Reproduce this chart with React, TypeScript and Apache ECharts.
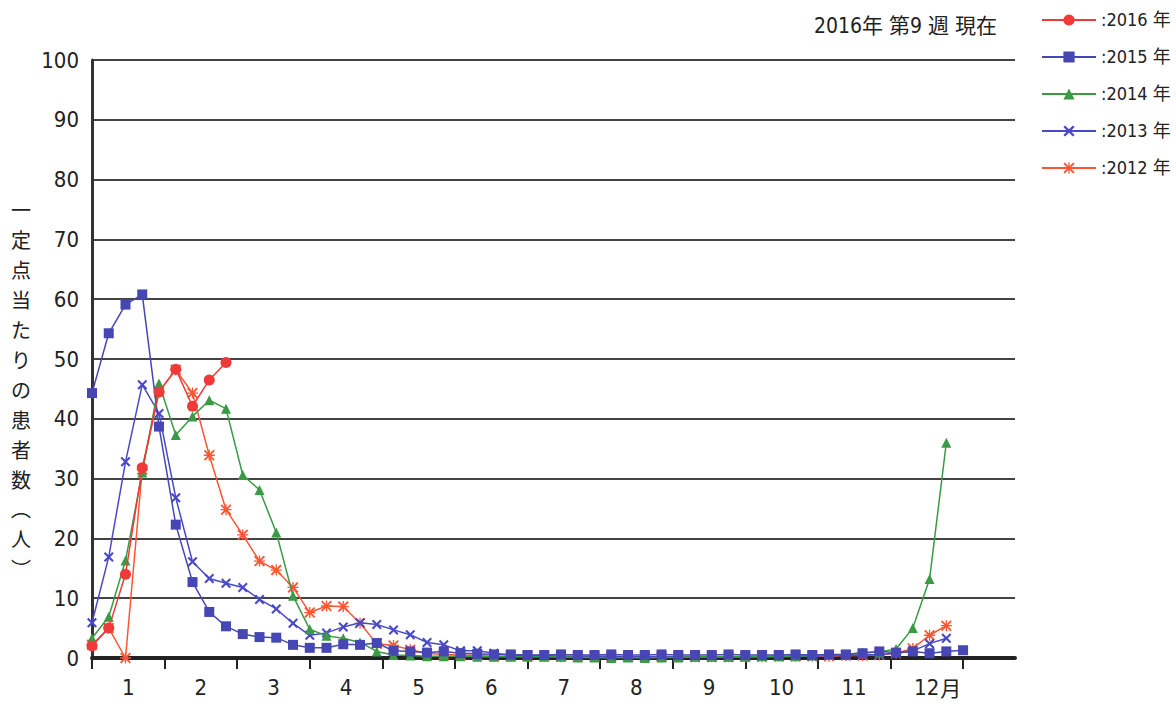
import React, { useEffect, useRef } from "react";
import * as echarts from "echarts";

const title = "2016年 第9 週 現在";
const yAxisTitle = "一\n定\n点\n当\nた\nり\nの\n患\n者\n数\n︵\n人\n︶";
const months = ["1", "2", "3", "4", "5", "6", "7", "8", "9", "10", "11", "12"];

const s2016 = [2.0, 5.0, 14.0, 31.8, 44.5, 48.3, 42.1, 46.5, 49.4];
const s2015 = [
  44.3, 54.3, 59.1, 60.8, 38.7, 22.3, 12.7, 7.7, 5.3, 4.0,
  3.5, 3.4, 2.2, 1.7, 1.7, 2.3, 2.2, 2.5, 1.2, 1.1,
  0.9, 1.1, 0.8, 0.7, 0.6, 0.6, 0.5, 0.5, 0.6, 0.5,
  0.5, 0.6, 0.5, 0.5, 0.6, 0.5, 0.5, 0.5, 0.6, 0.5,
  0.5, 0.5, 0.6, 0.5, 0.6, 0.6, 0.8, 1.1, 0.9, 1.1,
  0.8, 1.1, 1.3,
];
const s2014 = [
  3.3, 6.9, 16.3, 31.0, 45.9, 37.3, 40.4, 43.1, 41.7, 30.6,
  28.1, 21.0, 10.4, 4.8, 3.7, 3.3, 2.6, 1.1, 0.5, 0.4,
  0.3, 0.3, 0.3, 0.2, 0.2, 0.2, 0.2, 0.2, 0.2, 0.1,
  0.1, 0.0, 0.1, 0.0, 0.1, 0.1, 0.2, 0.2, 0.2, 0.2,
  0.3, 0.3, 0.3, 0.4, 0.5, 0.6, 0.9, 1.0, 1.5, 5.0,
  13.2, 36.0,
];
const s2013 = [
  5.9, 16.9, 32.8, 45.7, 40.9, 26.8, 16.1, 13.3, 12.5, 11.8,
  9.8, 8.2, 5.8, 3.8, 4.2, 5.2, 5.9, 5.6, 4.7, 3.9,
  2.6, 2.2, 1.2, 1.2, 0.8, 0.5, 0.4, 0.4, 0.3, 0.3,
  0.3, 0.3, 0.2, 0.2, 0.2, 0.2, 0.1, 0.1, 0.1, 0.2,
  0.2, 0.2, 0.3, 0.3, 0.4, 0.4, 0.5, 0.6, 0.8, 1.2,
  2.4, 3.3,
];
const s2012 = [
  2.2, 5.0, 0.0, 31.5, 44.5, 48.2, 44.3, 33.9, 24.8, 20.6,
  16.2, 14.7, 11.8, 7.6, 8.7, 8.6, 5.8, 2.4, 2.1, 1.4,
  0.8, 0.6, 0.5, 0.4, 0.3, 0.3, 0.3, 0.3, 0.2, 0.2,
  0.2, 0.2, 0.2, 0.2, 0.2, 0.2, 0.2, 0.2, 0.2, 0.2,
  0.2, 0.3, 0.3, 0.3, 0.3, 0.4, 0.4, 0.5, 0.8, 1.6,
  3.8, 5.4,
];

const NARROW = "'Liberation Sans Narrow', 'DejaVu Sans Condensed', sans-serif";
const CJK = "'Liberation Sans Narrow', 'DejaVu Sans Condensed', 'Noto Sans CJK JP', sans-serif";

const X_PATH =
  "path://M0,1.5L1.5,0L5,3.5L8.5,0L10,1.5L6.5,5L10,8.5L8.5,10L5,6.5L1.5,10L0,8.5L3.5,5Z";
const STAR_PATH =
  "path://M0,1.2L1.2,0L5,3.8L8.8,0L10,1.2L6.2,5L10,8.8L8.8,10L5,6.2L1.2,10L0,8.8L3.8,5Z M4.4,0L5.6,0L5.6,10L4.4,10Z M0,4.4L10,4.4L10,5.6L0,5.6Z";

const toPts = (arr: number[]) => arr.map((v, i) => [i + 1, v]);

export default function App() {
  const ref = useRef<HTMLDivElement>(null);
  useEffect(() => {
    if (!ref.current) return;
    const chart = echarts.init(ref.current, undefined, { renderer: "svg" });
    const mk = (
      name: string,
      data: number[],
      color: string,
      symbol: string,
      size: number,
      z: number
    ) => ({
      name,
      type: "line",
      xAxisIndex: 0,
      yAxisIndex: 0,
      data: toPts(data),
      symbol,
      symbolSize: size,
      showAllSymbol: true,
      z,
      lineStyle: { color, width: 1.5 },
      itemStyle: { color },
      emphasis: { disabled: true },
    });
    chart.setOption({
      animation: false,
      backgroundColor: "#ffffff",
      title: {
        text: title,
        right: 174,
        top: 10,
        textStyle: { fontFamily: CJK, fontSize: 21, fontWeight: "normal", color: "#222" },
      },
      legend: {
        data: ["2016年", "2015年", "2014年", "2013年", "2012年"],
        orient: "vertical",
        left: 1036,
        top: 6,
        itemWidth: 54,
        itemHeight: 14,
        itemGap: 19,
        formatter: (n: string) => ":" + n.replace("年", " 年"),
        textStyle: { fontFamily: CJK, fontSize: 18, color: "#222" },
      },
      grid: [
        { left: 92, right: 161, top: 60, bottom: 48 },
        { left: 92, width: 871, top: 60, bottom: 48 },
      ],
      xAxis: [
        {
          type: "value",
          gridIndex: 0,
          min: 1,
          max: 56.1,
          axisLine: { show: true, onZero: false, lineStyle: { color: "#222", width: 4 } },
          axisTick: { show: false },
          axisLabel: { show: false },
          splitLine: { show: false },
        },
        {
          type: "category",
          gridIndex: 1,
          data: months,
          boundaryGap: true,
          axisLine: { show: false },
          axisTick: { show: true, interval: 0, length: 11, lineStyle: { color: "#222", width: 2 } },
          axisLabel: {
            interval: 0,
            margin: 18,
            fontFamily: NARROW,
            fontSize: 22,
            color: "#222",
            formatter: (v: string) => (v === "12" ? "{p| }12{m|月}" : v),
            rich: {
              p: { width: 22 },
              m: { fontFamily: "'Noto Sans CJK JP', sans-serif", fontSize: 21, width: 22, align: "right" },
            },
          },
          splitLine: { show: false },
        },
      ],
      yAxis: [
        {
          type: "value",
          gridIndex: 0,
          min: 0,
          max: 100,
          interval: 10,
          axisLine: { show: true, lineStyle: { color: "#333", width: 3 } },
          axisTick: { show: false },
          axisLabel: { margin: 13, fontFamily: NARROW, fontSize: 22, color: "#222" },
          splitLine: { show: true, lineStyle: { color: "#444", width: 2 } },
        },
        {
          type: "value",
          gridIndex: 1,
          min: 0,
          max: 100,
          show: false,
        },
      ],
      graphic: [
        {
          type: "text",
          left: 11,
          top: 195,
          style: {
            text: yAxisTitle,
            fontFamily: "'Noto Sans CJK JP', sans-serif",
            fontSize: 20,
            lineHeight: 29.9,
            fill: "#222",
            align: "center",
            width: 24,
          },
        },
      ],
      series: [
        mk("2012年", s2012, "#ff5533", STAR_PATH, 11, 2),
        mk("2013年", s2013, "#4a4ac8", X_PATH, 10, 3),
        mk("2014年", s2014, "#3a9a45", "triangle", 10, 4),
        mk("2015年", s2015, "#4646b4", "rect", 10, 5),
        mk("2016年", s2016, "#f03a3a", "circle", 11, 6),
      ],
    });
    return () => chart.dispose();
  }, []);
  return (
    <div
      ref={ref}
      style={{ position: "fixed", left: 0, top: 0, width: 1176, height: 706, background: "#fff" }}
    />
  );
}
